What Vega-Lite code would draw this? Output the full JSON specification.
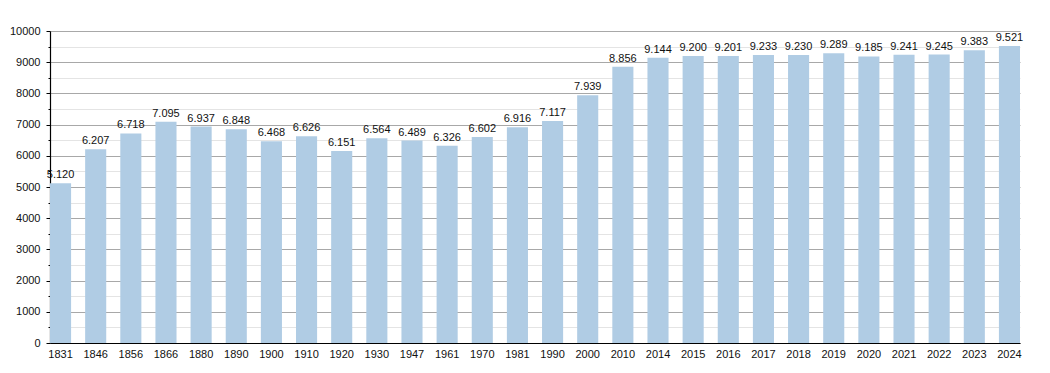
{
  "$schema": "https://vega.github.io/schema/vega-lite/v6.json",
  "width": 970,
  "height": 312,
  "autosize": {"type": "none"},
  "padding": {"left": 50, "top": 31, "right": 30, "bottom": 30},
  "background": "white",
  "config": {
    "view": {"stroke": null},
    "font": "Liberation Sans",
    "locale": {"number": {"decimal": ",", "thousands": ".", "grouping": [3], "currency": ["", " €"]}},
    "axis": {"labelFont": "Liberation Sans", "labelFontSize": 11, "labelColor": "#111"}
  },
  "data": {"values": [
    {"year": "1831", "pop": 5120}, {"year": "1846", "pop": 6207}, {"year": "1856", "pop": 6718},
    {"year": "1866", "pop": 7095}, {"year": "1880", "pop": 6937}, {"year": "1890", "pop": 6848},
    {"year": "1900", "pop": 6468}, {"year": "1910", "pop": 6626}, {"year": "1920", "pop": 6151},
    {"year": "1930", "pop": 6564}, {"year": "1947", "pop": 6489}, {"year": "1961", "pop": 6326},
    {"year": "1970", "pop": 6602}, {"year": "1981", "pop": 6916}, {"year": "1990", "pop": 7117},
    {"year": "2000", "pop": 7939}, {"year": "2010", "pop": 8856}, {"year": "2014", "pop": 9144},
    {"year": "2015", "pop": 9200}, {"year": "2016", "pop": 9201}, {"year": "2017", "pop": 9233},
    {"year": "2018", "pop": 9230}, {"year": "2019", "pop": 9289}, {"year": "2020", "pop": 9185},
    {"year": "2021", "pop": 9241}, {"year": "2022", "pop": 9245}, {"year": "2023", "pop": 9383},
    {"year": "2024", "pop": 9521}
  ]},
  "encoding": {
    "x": {
      "field": "year", "type": "ordinal", "sort": null,
      "scale": {"paddingInner": 0.4, "paddingOuter": 0},
      "axis": {"title": null, "labelAngle": 0, "ticks": false, "labelPadding": 5, "domainColor": "#000", "domainWidth": 1.2, "grid": false}
    }
  },
  "layer": [
    {
      "mark": {"type": "bar", "color": "#b0cce4"},
      "encoding": {
        "y": {
          "field": "pop", "type": "quantitative",
          "scale": {"domain": [0, 10000], "nice": false},
          "axis": {"title": null, "orient": "left", "values": [500, 1500, 2500, 3500, 4500, 5500, 6500, 7500, 8500, 9500], "labels": false, "domain": false, "tickSize": 2, "tickColor": "#000", "grid": true, "gridColor": "#e4e4e4", "gridWidth": 1}
        }
      }
    },
    {
      "mark": {"type": "text", "baseline": "bottom", "dy": -3, "fontSize": 11, "color": "#111", "font": "Liberation Sans"},
      "encoding": {
        "y": {
          "field": "pop", "type": "quantitative",
          "scale": {"domain": [0, 10000], "nice": false},
          "axis": {"title": null, "orient": "left", "values": [0, 1000, 2000, 3000, 4000, 5000, 6000, 7000, 8000, 9000, 10000], "format": "d", "domainColor": "#000", "domainWidth": 1.2, "tickSize": 4, "tickColor": "#000", "labelPadding": 6, "grid": true, "gridColor": "#a8a8a8", "gridWidth": 1}
        },
        "text": {"field": "pop", "type": "quantitative", "format": ",d"}
      }
    }
  ],
  "resolve": {"axis": {"y": "independent"}}
}
